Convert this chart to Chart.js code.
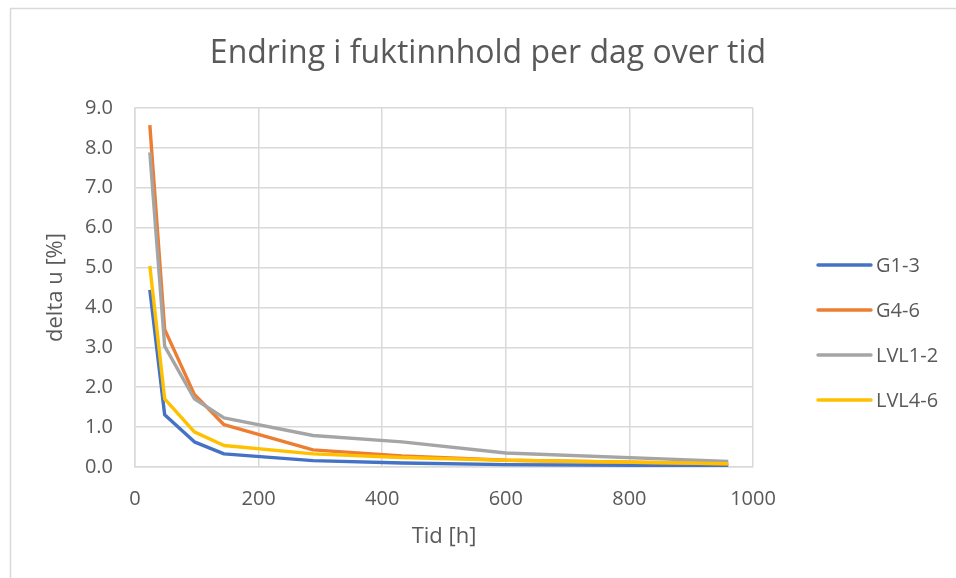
<!DOCTYPE html>
<html>
<head>
<meta charset="utf-8">
<script src="https://cdn.jsdelivr.net/npm/chart.js@4.4.1/dist/chart.umd.min.js"></script>
<style>
  html, body { margin: 0; padding: 0; background: #ffffff; }
  #wrap { width: 956px; height: 578px; position: relative; }
</style>
</head>
<body>
<div id="wrap"><canvas id="c" width="956" height="578"></canvas></div>
<script>
// Time in hours for each measurement
const hours = [24, 48, 96, 144, 288, 432, 600, 960];

// Change in moisture content per day (%)
const g13   = [4.44, 1.31, 0.63, 0.33, 0.16, 0.10, 0.06, 0.03];
const g46   = [8.57, 3.45, 1.82, 1.06, 0.43, 0.28, 0.17, 0.08];
const lvl12 = [7.89, 3.03, 1.71, 1.23, 0.79, 0.63, 0.35, 0.14];
const lvl46 = [5.04, 1.71, 0.88, 0.54, 0.33, 0.24, 0.17, 0.08];

const seriesNames = ['G1-3', 'G4-6', 'LVL1-2', 'LVL4-6'];
const seriesColors = ['#4472C4', '#ED7D31', '#A5A5A5', '#FFC000'];
const seriesValues = [g13, g46, lvl12, lvl46];

const yTicks = [0, 1, 2, 3, 4, 5, 6, 7, 8, 9];
const xTicks = [0, 200, 400, 600, 800, 1000];

const FONT = '"Open Sans", "Liberation Sans", sans-serif';
const TEXT = '#595959';
const GRID = '#d9d9d9';

const datasets = seriesValues.map((vals, i) => ({
  label: seriesNames[i],
  data: hours.map((h, k) => ({ x: h, y: vals[k] })),
  borderColor: seriesColors[i],
  backgroundColor: seriesColors[i],
  borderWidth: 3.4,
  pointRadius: 0,
  tension: 0,
  borderJoinStyle: 'round',
  order: seriesValues.length - i   // later series drawn on top
}));

// Frame, title and legend drawn around the plot
const decor = {
  id: 'decor',
  beforeDraw(chart) {
    const ctx = chart.ctx;
    ctx.save();
    ctx.fillStyle = '#ffffff';
    ctx.fillRect(0, 0, chart.width, chart.height);
    ctx.strokeStyle = GRID;
    ctx.lineWidth = 1.5;
    ctx.strokeRect(10.5, 8.5, chart.width + 20, chart.height + 20);
    ctx.restore();
  },
  afterDraw(chart) {
    const ctx = chart.ctx;
    ctx.save();
    ctx.fillStyle = TEXT;
    ctx.font = '32px ' + FONT;
    ctx.textAlign = 'center';
    ctx.textBaseline = 'middle';
    ctx.fillText('Endring i fuktinnhold per dag over tid', 488, 54);

    ctx.font = '20px ' + FONT;
    ctx.textAlign = 'left';
    chart.data.datasets.forEach((ds, i) => {
      const y = 265 + i * 45;
      ctx.strokeStyle = ds.borderColor;
      ctx.lineWidth = 3.4;
      ctx.lineCap = 'round';
      ctx.beginPath();
      ctx.moveTo(818, y);
      ctx.lineTo(871, y);
      ctx.stroke();
      ctx.fillStyle = TEXT;
      ctx.fillText(ds.label, 876, y + 1);
    });
    ctx.restore();
  }
};

new Chart(document.getElementById('c'), {
  type: 'line',
  data: { datasets },
  plugins: [decor],
  options: {
    responsive: false,
    animation: false,
    layout: { padding: { left: 0, top: 108, right: 203, bottom: 0 } },
    plugins: { legend: { display: false }, tooltip: { enabled: false } },
    scales: {
      x: {
        type: 'linear',
        min: 0, max: 1000,
        afterBuildTicks(scale) { scale.ticks = xTicks.map(v => ({ value: v })); },
        afterFit(scale) { scale.height = 111; },
        grid: { color: GRID, lineWidth: 1.5, drawTicks: false },
        border: { color: GRID, width: 1.5 },
        ticks: { color: TEXT, font: { family: FONT, size: 20 }, padding: 20, callback: v => String(v) },
        title: { display: true, text: 'Tid [h]', color: TEXT, font: { family: FONT, size: 22 }, padding: { top: 0, bottom: 28 } }
      },
      y: {
        type: 'linear',
        min: 0, max: 9,
        afterBuildTicks(scale) { scale.ticks = yTicks.map(v => ({ value: v })); },
        afterFit(scale) { scale.width = 135; },
        grid: { color: GRID, lineWidth: 1.5, drawTicks: false },
        border: { color: GRID, width: 1.5 },
        ticks: { color: TEXT, font: { family: FONT, size: 20 }, padding: 22, callback: v => v.toFixed(1) },
        title: { display: true, text: 'delta u [%]', color: TEXT, font: { family: FONT, size: 22 }, padding: { top: 43, bottom: 0 } }
      }
    }
  }
});
</script>
</body>
</html>
